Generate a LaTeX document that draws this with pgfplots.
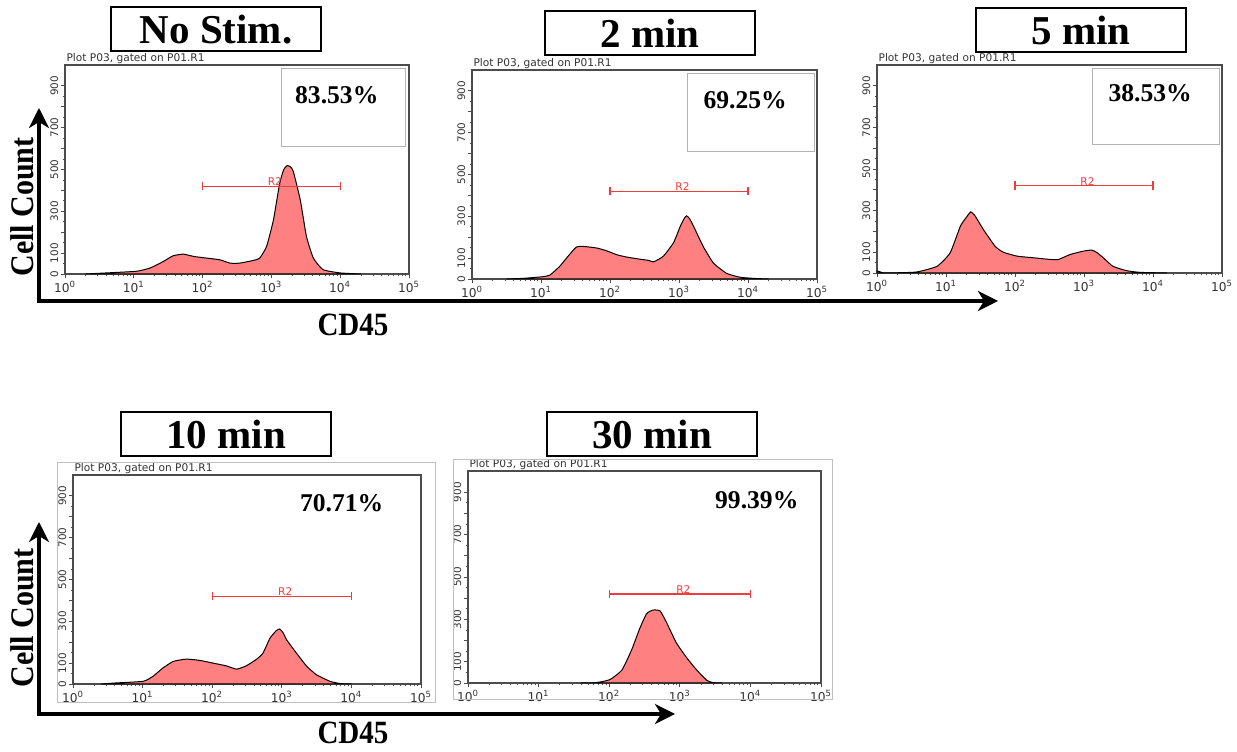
\documentclass[border=0pt]{standalone}
\usepackage{pgfplots}
\pgfplotsset{compat=1.18}
\usepackage{fontspec}
\setmainfont{Liberation Serif}
\newfontfamily\dv{DejaVu Sans}
\usetikzlibrary{arrows.meta}
\definecolor{histfill}{RGB}{255,128,128}
\definecolor{gatered}{RGB}{240,60,60}
\newcommand{\tickfont}{\dv\fontsize{6.1}{6.5}\selectfont}
\newcommand{\ytickfont}{\dv\fontsize{5.2}{5.5}\selectfont}
\newcommand{\pctfont}{\bfseries\fontsize{12.8}{14}\selectfont}
\pgfplotsset{
 facs/.style={
  scale only axis, anchor=south west, clip=false,
  xmin=0, xmax=5, ymin=0, ymax=1000,
  axis line style={draw=black!70, line width=0.6pt},
  xtick={0,1,2,3,4,5},
  xticklabels={10\textsuperscript{0},10\textsuperscript{1},10\textsuperscript{2},10\textsuperscript{3},10\textsuperscript{4},10\textsuperscript{5}},
  minor xtick={0.301,0.477,0.602,0.699,0.778,0.845,0.903,0.954,
   1.301,1.477,1.602,1.699,1.778,1.845,1.903,1.954,
   2.301,2.477,2.602,2.699,2.778,2.845,2.903,2.954,
   3.301,3.477,3.602,3.699,3.778,3.845,3.903,3.954,
   4.301,4.477,4.602,4.699,4.778,4.845,4.903,4.954},
  ytick={0,100,...,900},
  yticklabels={0,100,,300,,500,,700,,900},
  minor y tick num=1,
  tick align=outside, tick pos=left,
  major tick length=2.2pt, minor tick length=1.2pt,
  every tick/.style={black!70, line width=0.4pt},
  xticklabel style={font=\tickfont, text=black!80, inner sep=1pt},
  yticklabel style={font=\ytickfont, rotate=90, anchor=south, text=black!80, inner sep=1pt},
 },
 hist/.style={fill=histfill, draw=black, line width=0.5pt, smooth, tension=0.3},
}
\newcommand{\plottitle}{\node[anchor=south west, inner sep=0.6pt, font=\dv\fontsize{5.3}{5.5}\selectfont, text=black!80] at (rel axis cs:0,1) {Plot P03, gated on P01.R1};}
\newcommand{\gate}{%
 \draw[gatered, line width=0.6pt] (axis cs:2,420) -- (axis cs:4,420);
 \draw[gatered, line width=0.6pt] (axis cs:2,400) -- (axis cs:2,440);
 \draw[gatered, line width=0.6pt] (axis cs:4,400) -- (axis cs:4,440);
 \node[text=gatered, font=\dv\fontsize{5.3}{5.5}\selectfont, inner sep=0pt] at (axis cs:3.05,440) {R2};}
\tikzset{titlebox/.style={draw, line width=1pt, minimum width=105pt, minimum height=22pt, inner sep=0pt, font=\bfseries\fontsize{20.5}{22}\selectfont}}
\begin{document}
\begin{tikzpicture}
\path (0pt,0pt) rectangle (618.5pt,374.5pt);

% Panel 1: No Stim.
\begin{axis}[facs, at={(32.5pt,237.5pt)}, width=172pt, height=104.5pt]
\addplot[hist] coordinates {(0.3,0) (0.6,5) (1.04,13) (1.24,29) (1.43,60) (1.57,87) (1.72,95) (1.87,84) (2.06,76) (2.25,68) (2.40,52) (2.54,52) (2.74,65) (2.83,76) (2.93,132) (3.03,259) (3.12,433) (3.18,500) (3.23,519) (3.28,512) (3.32,489) (3.42,354) (3.51,179) (3.61,76) (3.75,21) (4.0,5) (4.3,0)} \closedcycle;
\plottitle
\gate
\draw[black!30, line width=0.5pt] (axis cs:3.154,612) rectangle (axis cs:4.956,985);
\node[font=\pctfont] at (axis cs:3.95,856) {83.53\%};
\end{axis}

% Panel 2: 2 min
\begin{axis}[facs, at={(236pt,235pt)}, width=172.5pt, height=104.5pt]
\addplot[hist] coordinates {(0.5,0) (0.74,3) (1.03,11) (1.13,19) (1.27,60) (1.39,108) (1.51,152) (1.61,156) (1.81,148) (1.95,135) (2.10,116) (2.24,105) (2.43,95) (2.56,89) (2.63,82) (2.77,108) (2.92,173) (3.02,253) (3.08,292) (3.11,302) (3.15,290) (3.21,253) (3.35,156) (3.50,76) (3.69,27) (3.89,8) (4.13,2) (4.3,0)} \closedcycle;
\plottitle
\gate
\draw[black!30, line width=0.5pt] (axis cs:3.13,612) rectangle (axis cs:4.97,985);
\node[font=\pctfont] at (axis cs:3.96,856) {69.25\%};
\end{axis}

% Panel 3: 5 min
\begin{axis}[facs, at={(438.5pt,238pt)}, width=172.5pt, height=104pt]
\addplot[hist] coordinates {(0,10) (0.05,5) (0.10,0) (0.3,1) (0.58,5) (0.87,32) (1.06,97) (1.21,226) (1.30,270) (1.36,294) (1.42,275) (1.54,210) (1.71,129) (1.83,100) (2.03,81) (2.27,73) (2.51,65) (2.63,65) (2.80,89) (2.99,105) (3.11,110) (3.18,100) (3.28,73) (3.42,32) (3.62,11) (3.81,3) (4.2,0)} \closedcycle;
\plottitle
\gate
\draw[black!30, line width=0.5pt] (axis cs:3.13,620) rectangle (axis cs:4.97,985);
\node[font=\pctfont] at (axis cs:3.96,865) {38.53\%};
\end{axis}

% Panel 4: 10 min
\begin{axis}[facs, at={(36.5pt,32.5pt)}, width=174pt, height=104.5pt]
\addplot[hist] coordinates {(0.4,0) (0.62,5) (1.01,13) (1.15,37) (1.29,76) (1.44,108) (1.63,119) (1.82,113) (2.01,100) (2.20,87) (2.35,71) (2.49,87) (2.64,119) (2.73,148) (2.83,219) (2.92,255) (2.97,263) (3.02,245) (3.07,211) (3.21,148) (3.36,84) (3.50,44) (3.69,13) (3.84,2) (4.0,0)} \closedcycle;
\plottitle
\gate
\node[font=\pctfont] at (axis cs:3.86,866) {70.71\%};
\end{axis}

% Panel 5: 30 min
\begin{axis}[facs, at={(234pt,33pt)}, width=176.5pt, height=106pt]
\addplot[hist] coordinates {(1.6,0) (1.82,2) (2.01,16) (2.18,61) (2.32,158) (2.43,255) (2.53,327) (2.62,344) (2.72,340) (2.81,287) (2.95,190) (3.10,118) (3.24,61) (3.38,13) (3.47,2) (3.6,0)} \closedcycle;
\plottitle
\gate
\node[font=\pctfont] at (axis cs:4.09,863) {99.39\%};
\end{axis}

\begin{scope}[x=0.5pt, y=0.5pt]
% outer frames bottom row
\draw[black!25, line width=0.5pt] (57,46) rectangle (435,286);
\draw[black!25, line width=0.5pt] (453,49) rectangle (832,289);
% title boxes
\node[titlebox] at (216,719.5) {No Stim.};
\node[titlebox] at (650,715.5) {2 min};
\node[titlebox] at (1081,719) {5 min};
\node[titlebox] at (226,314.5) {10 min};
\node[titlebox] at (652,314.5) {30 min};
% big arrows
\draw[line width=2pt, {Stealth[length=10pt,width=10pt,inset=3pt]}-{Stealth[length=10pt,width=10pt,inset=3pt]}] (39,641) -- (39,448) -- (998,448);
\draw[line width=2pt, {Stealth[length=10pt,width=10pt,inset=3pt]}-{Stealth[length=10pt,width=10pt,inset=3pt]}] (39,227) -- (39,35) -- (675,35);
% axis labels
\node[rotate=90, font=\bfseries\fontsize{15}{16}\selectfont, yscale=1.1] at (22,542) {Cell Count};
\node[rotate=90, font=\bfseries\fontsize{15}{16}\selectfont, yscale=1.1] at (22,131) {Cell Count};
\node[font=\bfseries\fontsize{14.5}{16}\selectfont, yscale=1.12] at (353,424) {CD45};
\node[font=\bfseries\fontsize{14.5}{16}\selectfont, yscale=1.12] at (353,16) {CD45};
\end{scope}
\end{tikzpicture}
\end{document}
